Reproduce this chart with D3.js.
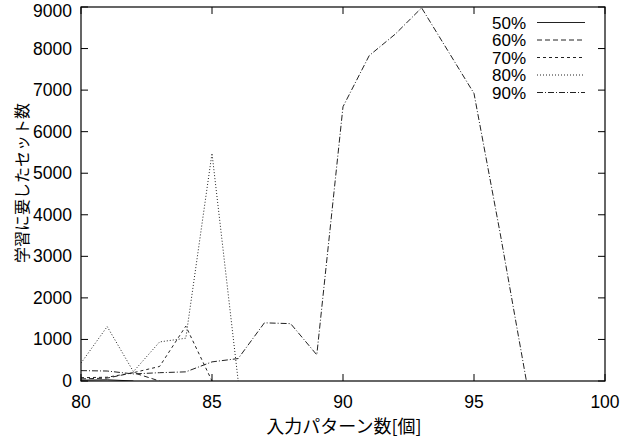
<!DOCTYPE html>
<html>
<head>
<meta charset="utf-8">
<script src="https://cdn.jsdelivr.net/npm/d3@7"></script>
<style>
  html, body { margin: 0; padding: 0; background: #fff; }
  svg { display: block; }
</style>
</head>
<body>
<svg id="chart" width="621" height="437"></svg>
<script>
// ---- data ----
const seriesNames = ["50%", "60%", "70%", "80%", "90%"];
const x50 = [80, 81, 82];
const y50 = [20, 30, 0];
const x60 = [80, 81, 82, 83];
const y60 = [50, 70, 200, 0];
const x70 = [80, 81, 82, 83, 84, 85];
const y70 = [80, 90, 200, 350, 1320, 0];
const x80 = [80, 81, 82, 83, 84, 85, 86];
const y80 = [430, 1310, 225, 940, 1030, 5480, 0];
const x90 = [80, 81, 82, 83, 84, 85, 86, 87, 88, 89, 90, 91, 92, 93, 94, 95, 96, 97];
const y90 = [250, 240, 170, 200, 220, 460, 540, 1400, 1380, 630, 6600, 7830, 8350, 8980, 7950, 6920, 3550, 0];
const xTicks = [80, 85, 90, 95, 100];
const yTicks = [0, 1000, 2000, 3000, 4000, 5000, 6000, 7000, 8000, 9000];
const xTitle = "入力パターン数[個]";
const yTitle = "学習に要したセット数";

const seriesX = [x50, x60, x70, x80, x90];
const seriesY = [y50, y60, y70, y80, y90];
const dashes = ["none", "5,3", "3,3", "1,2", "6,2,1,2"];

// ---- layout ----
const L = 81, R = 605, T = 7, B = 381;
const svg = d3.select("#chart");
const x = d3.scaleLinear().domain([80, 100]).range([L, R]);
const y = d3.scaleLinear().domain([0, 9000]).range([B, T]);
const numFont = "'Liberation Sans', Arial, Helvetica, sans-serif";
const cjkFont = "'Noto Sans CJK JP', sans-serif";
const tickLen = 7;

// ticks (inward, mirrored)
const g = svg.append("g");
xTicks.forEach(v => {
  g.append("line").attr("x1", x(v)).attr("x2", x(v)).attr("y1", B).attr("y2", B - tickLen)
    .attr("stroke", "#000").attr("stroke-width", 1);
  g.append("line").attr("x1", x(v)).attr("x2", x(v)).attr("y1", T).attr("y2", T + tickLen)
    .attr("stroke", "#000").attr("stroke-width", 1);
  g.append("text").attr("x", x(v)).attr("y", 408).attr("text-anchor", "middle")
    .attr("font-family", numFont).attr("font-size", 17.5).text(v);
});
yTicks.forEach(v => {
  g.append("line").attr("x1", L).attr("x2", L + tickLen).attr("y1", y(v)).attr("y2", y(v))
    .attr("stroke", "#000").attr("stroke-width", 1);
  g.append("line").attr("x1", R).attr("x2", R - tickLen).attr("y1", y(v)).attr("y2", y(v))
    .attr("stroke", "#000").attr("stroke-width", 1);
  g.append("text").attr("x", 72).attr("y", Math.max(y(v) + 6, 16.5)).attr("text-anchor", "end")
    .attr("font-family", numFont).attr("font-size", 17.5).text(v);
});

// series lines
svg.append("clipPath").attr("id", "clip")
  .append("rect").attr("x", L).attr("y", T).attr("width", R - L).attr("height", B - T);
const line = d3.line().x(d => x(d[0])).y(d => y(d[1]));
seriesNames.forEach((name, i) => {
  const pts = seriesX[i].map((xv, j) => [xv, seriesY[i][j]]);
  svg.append("path").datum(pts).attr("d", line)
    .attr("fill", "none").attr("stroke", "#222").attr("stroke-width", 1)
    .attr("stroke-dasharray", dashes[i]).attr("clip-path", "url(#clip)");
});

// border
svg.append("rect").attr("x", L).attr("y", T).attr("width", R - L).attr("height", B - T)
  .attr("fill", "none").attr("stroke", "#000").attr("stroke-width", 1.2);

// legend
seriesNames.forEach((name, i) => {
  const ly = 22.5 + i * 17.5;
  svg.append("text").attr("x", 526).attr("y", ly + 6).attr("text-anchor", "end")
    .attr("font-family", numFont).attr("font-size", 17).text(name);
  svg.append("line").attr("x1", 537).attr("x2", 585).attr("y1", ly).attr("y2", ly)
    .attr("stroke", "#222").attr("stroke-width", 1).attr("stroke-dasharray", dashes[i]);
});

// axis titles
svg.append("text").attr("x", 344).attr("y", 433).attr("text-anchor", "middle")
  .attr("font-family", cjkFont).attr("font-size", 18).text(xTitle);
svg.append("text").attr("transform", "translate(28,183) rotate(-90)").attr("text-anchor", "middle")
  .attr("font-family", cjkFont).attr("font-size", 16).text(yTitle);
</script>
</body>
</html>
